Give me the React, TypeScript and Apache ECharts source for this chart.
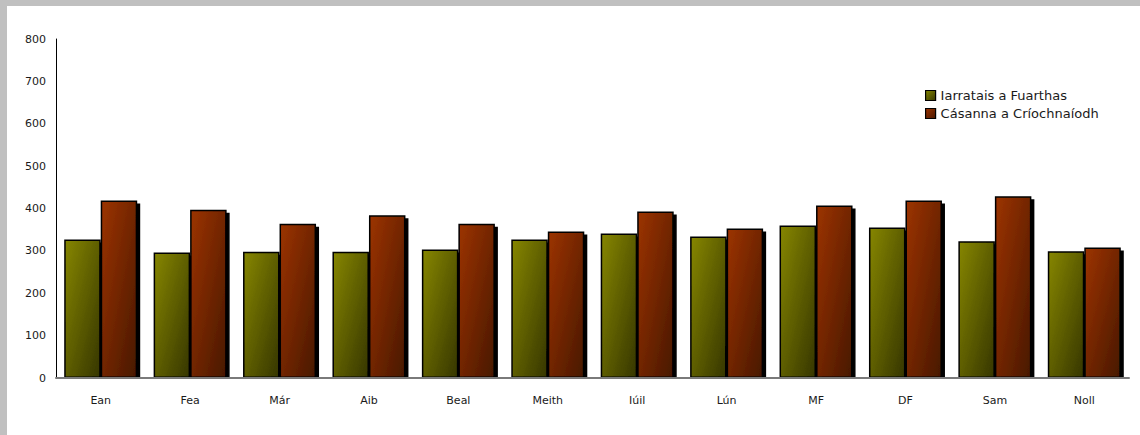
import React, { useEffect, useRef } from "react";
import * as echarts from "echarts";

const months = ["Ean", "Fea", "Már", "Aib", "Beal", "Meith", "Iúil", "Lún", "MF", "DF", "Sam", "Noll"];
const seriesNames = ["Iarratais a Fuarthas", "Cásanna a Críochnaíodh"];
const received = [327, 296, 298, 298, 303, 327, 341, 334, 360, 355, 323, 299];
const completed = [419, 397, 364, 384, 364, 346, 393, 353, 407, 419, 429, 308];
const yMax = 800;
const yStep = 100;

const FONT = "'DejaVu Sans', Tahoma, Verdana, sans-serif";

const W = 1133;
const H = 429;
const GRID = { left: 49, right: 11, top: 33, bottom: 57 };

export default function App() {
  const ref = useRef<HTMLDivElement | null>(null);

  useEffect(() => {
    if (!ref.current) return;
    const chart = echarts.init(ref.current, undefined, { renderer: "svg" });
    const green = new echarts.graphic.LinearGradient(0, 0, 1, 1, [
      { offset: 0, color: "#868600" },
      { offset: 1, color: "#363600" },
    ]);
    const red = new echarts.graphic.LinearGradient(0, 0, 1, 1, [
      { offset: 0, color: "#9c3300" },
      { offset: 1, color: "#481800" },
    ]);
    const barStyle = (c: any) => ({
      color: c,
      borderColor: "#000",
      borderWidth: 1.5,
      shadowColor: "#000",
      shadowBlur: 0,
      shadowOffsetX: 3,
      shadowOffsetY: 3,
    });
    const axisY = H - GRID.bottom;
    chart.setOption({
      animation: false,
      backgroundColor: "#ffffff",
      textStyle: { fontFamily: FONT },
      grid: { ...GRID, containLabel: false },
      graphic: {
        elements: [
          {
            type: "rect",
            z: 4,
            silent: true,
            shape: { x: GRID.left + 1, y: axisY + 1, width: W - GRID.left - GRID.right + 6, height: 5 },
            style: { fill: "#ffffff" },
          },
        ],
      },
      legend: {
        orient: "vertical",
        left: 918,
        top: 83,
        padding: 0,
        itemWidth: 10,
        itemHeight: 10,
        itemGap: 5,
        icon: "rect",
        textStyle: { fontFamily: FONT, fontSize: 13, lineHeight: 12, color: "#1a1a1a" },
        itemStyle: { borderColor: "#000", borderWidth: 1.2, shadowBlur: 0, shadowOffsetX: 0, shadowOffsetY: 0, shadowColor: "rgba(0,0,0,0)" },
        data: seriesNames,
      },
      xAxis: {
        type: "category",
        data: months,
        z: 5,
        axisLine: { show: true, lineStyle: { color: "#7a7a7a", width: 2 } },
        axisTick: { show: false },
        axisLabel: { margin: 17, fontSize: 11, color: "#1a1a1a", fontFamily: FONT, interval: 0 },
        splitLine: { show: false },
      },
      yAxis: {
        type: "value",
        min: 0,
        max: yMax,
        interval: yStep,
        z: 5,
        axisLine: { show: true, lineStyle: { color: "#000", width: 1 } },
        axisTick: { show: false },
        axisLabel: { margin: 10, fontSize: 11, color: "#1a1a1a", fontFamily: FONT },
        splitLine: { show: false },
      },
      series: [
        {
          name: seriesNames[0],
          type: "bar",
          data: received,
          barWidth: 36.5,
          barGap: "0%",
          itemStyle: barStyle(green),
        },
        {
          name: seriesNames[1],
          type: "bar",
          data: completed,
          barWidth: 36.5,
          barGap: "0%",
          itemStyle: barStyle(red),
        },
      ],
    });
    return () => chart.dispose();
  }, []);

  return (
    <div style={{ position: "absolute", left: 0, top: 0, width: 1140, height: 435, background: "#c0c0c0", overflow: "hidden" }}>
      <div style={{ position: "absolute", left: 7, top: 6, width: W, height: H, background: "#ffffff" }}>
        <div ref={ref} style={{ width: W, height: H }} />
      </div>
    </div>
  );
}
